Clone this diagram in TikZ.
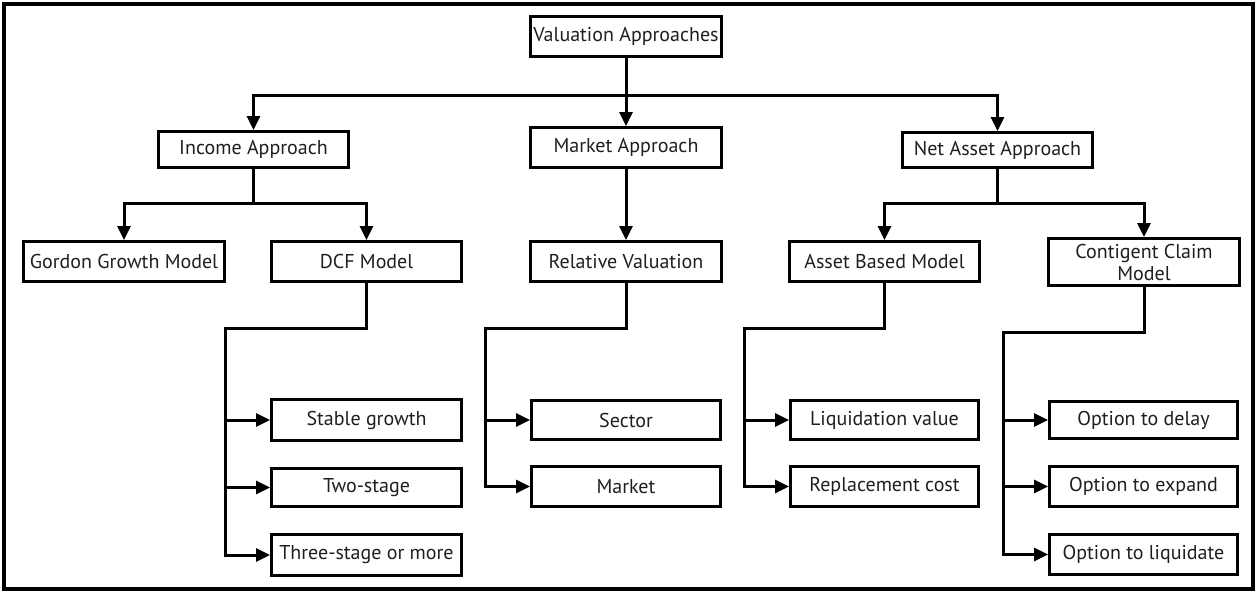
\documentclass[tikz,border=0pt]{standalone}
\usepackage{fontspec}
\setmainfont{PT Sans}
\usetikzlibrary{arrows.meta}
\begin{document}
\begin{tikzpicture}[x=1pt,y=-1pt,
  box/.style={draw=black, line width=3pt, fill=white, text=black!88,
    inner sep=0pt, font=\fontsize{20}{22}\selectfont, align=center},
  link/.style={draw=black, line width=3pt},
  arr/.style={link, -{Triangle[length=14pt,width=13pt]}}]
\useasboundingbox (0,0) rectangle (1256,592);
\draw[line width=4pt] (4,4) rectangle (1253,589);

% level 0 and 1
\node[box, minimum width=191pt, minimum height=40pt] (val) at (626,36.5) {Valuation Approaches};
\node[box, minimum width=190pt, minimum height=36pt] (inc) at (253.5,149.5) {Income Approach};
\node[box, minimum width=191pt, minimum height=40pt] (mkt) at (626,147.5) {Market Approach};
\node[box, minimum width=190pt, minimum height=35pt] (net) at (997.5,150) {Net Asset Approach};

% level 2
\node[box, minimum width=201pt, minimum height=40pt] (gor) at (124,261.5) {Gordon Growth Model};
\node[box, minimum width=190pt, minimum height=40pt] (dcf) at (366.5,261.5) {DCF Model};
\node[box, minimum width=191pt, minimum height=40pt] (rel) at (626,261.5) {Relative Valuation};
\node[box, minimum width=190pt, minimum height=40pt] (asb) at (884.5,261.5) {Asset Based Model};
\node[box, minimum width=191pt, minimum height=47pt] (con) at (1144,262) {Contigent Claim\\Model};

% level 3
\node[box, minimum width=190pt, minimum height=41pt] (stab) at (366.5,420) {Stable growth};
\node[box, minimum width=190pt, minimum height=38pt] (two) at (366.5,487.5) {Two-stage};
\node[box, minimum width=190pt, minimum height=41pt] (three) at (366.5,555) {Three-stage or more};

\node[box, minimum width=189pt, minimum height=39pt] (sec) at (626,420) {Sector};
\node[box, minimum width=189pt, minimum height=40pt] (mar) at (626,486.5) {Market};

\node[box, minimum width=188pt, minimum height=39pt] (liq) at (884.5,420) {Liquidation value};
\node[box, minimum width=188pt, minimum height=40pt] (rep) at (884.5,486.5) {Replacement cost};

\node[box, minimum width=188pt, minimum height=37pt] (del) at (1143.5,420) {Option to delay};
\node[box, minimum width=188pt, minimum height=40pt] (exp) at (1143.5,486.5) {Option to expand};
\node[box, minimum width=188pt, minimum height=40pt] (liqd) at (1143.5,554.5) {Option to liquidate};

% junction points
\coordinate (j1) at (626,95);
\coordinate (jinc) at (253.5,203);
\coordinate (jnet) at (997.5,203);
\coordinate (tdcf) at (225,328);
\coordinate (trel) at (485,328);
\coordinate (tasb) at (744,328);
\coordinate (tcon) at (1003,332);

% top level links
\draw[arr] (val.south) -- (mkt.north);
\draw[arr] (j1) -| (inc.north);
\draw[arr] (j1) -| (net.north);

% income approach
\draw[arr] (inc.south) -- (jinc) -| (gor.north);
\draw[arr] (jinc) -| (dcf.north);

% market approach
\draw[arr] (mkt.south) -- (rel.north);

% net asset approach
\draw[arr] (net.south) -- (jnet) -| (asb.north);
\draw[arr] (jnet) -| (con.north);

% DCF variants
\draw[arr] (dcf.south) |- (tdcf) |- (three.west);
\draw[arr] (tdcf |- stab.west) -- (stab.west);
\draw[arr] (tdcf |- two.west) -- (two.west);

% relative valuation
\draw[arr] (rel.south) |- (trel) |- (mar.west);
\draw[arr] (trel |- sec.west) -- (sec.west);

% asset based
\draw[arr] (asb.south) |- (tasb) |- (rep.west);
\draw[arr] (tasb |- liq.west) -- (liq.west);

% contingent claims
\draw[arr] (con.south) |- (tcon) |- (liqd.west);
\draw[arr] (tcon |- del.west) -- (del.west);
\draw[arr] (tcon |- exp.west) -- (exp.west);
\end{tikzpicture}
\end{document}
